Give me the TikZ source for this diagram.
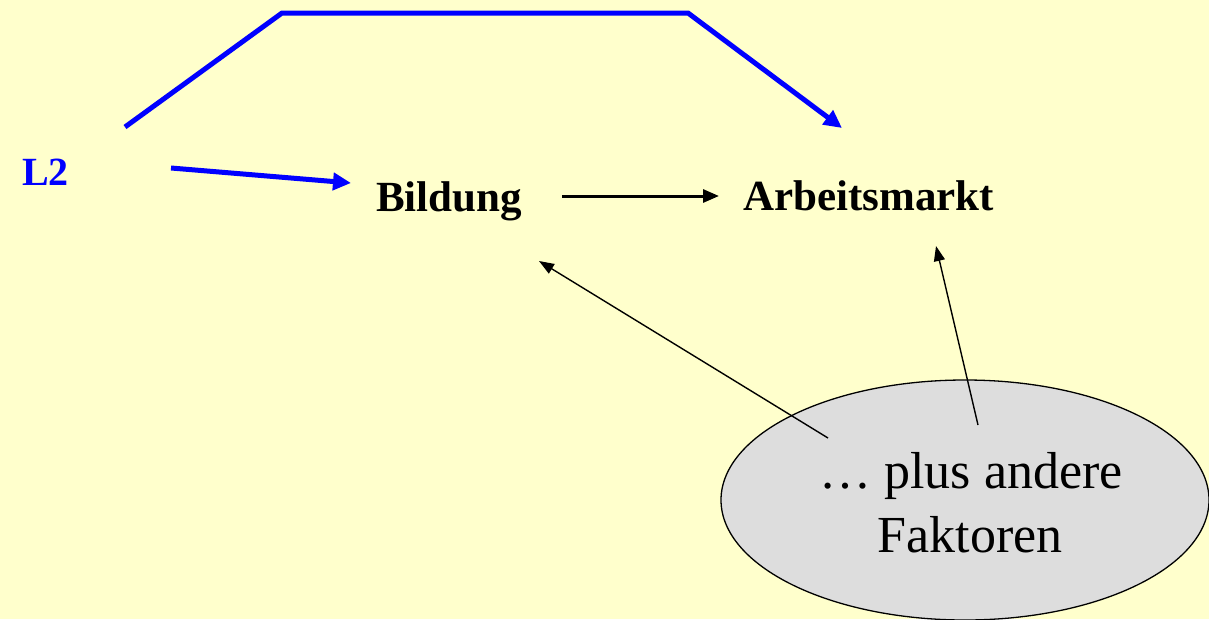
\documentclass[tikz,border=0pt]{standalone}
\usepackage{fontspec}
\setmainfont{Liberation Serif}
\usetikzlibrary{arrows.meta,shapes.geometric}
\definecolor{bg}{HTML}{FFFFCC}
\definecolor{ellfill}{HTML}{DDDDDD}
\begin{document}
\begin{tikzpicture}[x=1pt,y=-1pt,
  boldlbl/.style={inner sep=0pt,font=\fontsize{43}{50}\selectfont\bfseries},
  bluearrow/.style={blue,line width=5pt,-{Triangle[length=18pt,width=17pt]}},
  mainarrow/.style={black,line width=3pt,-{Triangle[length=16pt,width=13pt]}},
  thinarrow/.style={black,line width=1.4pt,-{Triangle[length=15pt,width=11pt]}}]
\fill[bg] (0,0) rectangle (1209,619);
\useasboundingbox (0,0) rectangle (1209,619);
% ellipse
\node[ellipse,draw=black,line width=1.3pt,fill=ellfill,minimum width=488pt,minimum height=240pt,inner sep=0pt] (ell) at (965,500) {};
\node[inner sep=0pt,anchor=base,font=\fontsize{52}{64}\selectfont] (t1) at (971,488) {… plus andere};
\node[inner sep=0pt,anchor=base,font=\fontsize{52}{64}\selectfont] (t2) at (970,552) {Faktoren};
% labels
\node[boldlbl,anchor=base west,text=blue,font=\fontsize{40}{46}\selectfont\bfseries] (l2) at (22,185) {L2};
\node[boldlbl,anchor=base west] (bild) at (376,211) {Bildung};
\node[boldlbl,anchor=base west] (arb) at (743,210) {Arbeitsmarkt};
% coordinates
\coordinate (a1) at (125,127);
\coordinate (a2) at (282,13);
\coordinate (a3) at (688,13);
\coordinate (a4) at (842,128);
\coordinate (b1) at (171,168);
\coordinate (b2) at (351,183);
\coordinate (c1) at (562,196);
\coordinate (c2) at (719,196);
\coordinate (d1) at (828,438);
\coordinate (d2) at (539,261);
\coordinate (e1) at (978,425);
\coordinate (e2) at (936,246);
% connectors
\draw[bluearrow,line join=miter] (a1) -- (a2) -- (a3) -- (a4);
\draw[bluearrow] (b1) -- (b2);
\draw[mainarrow] (c1) -- (c2);
\draw[thinarrow] (d1) -- (d2);
\draw[thinarrow] (e1) -- (e2);
\end{tikzpicture}
\end{document}
